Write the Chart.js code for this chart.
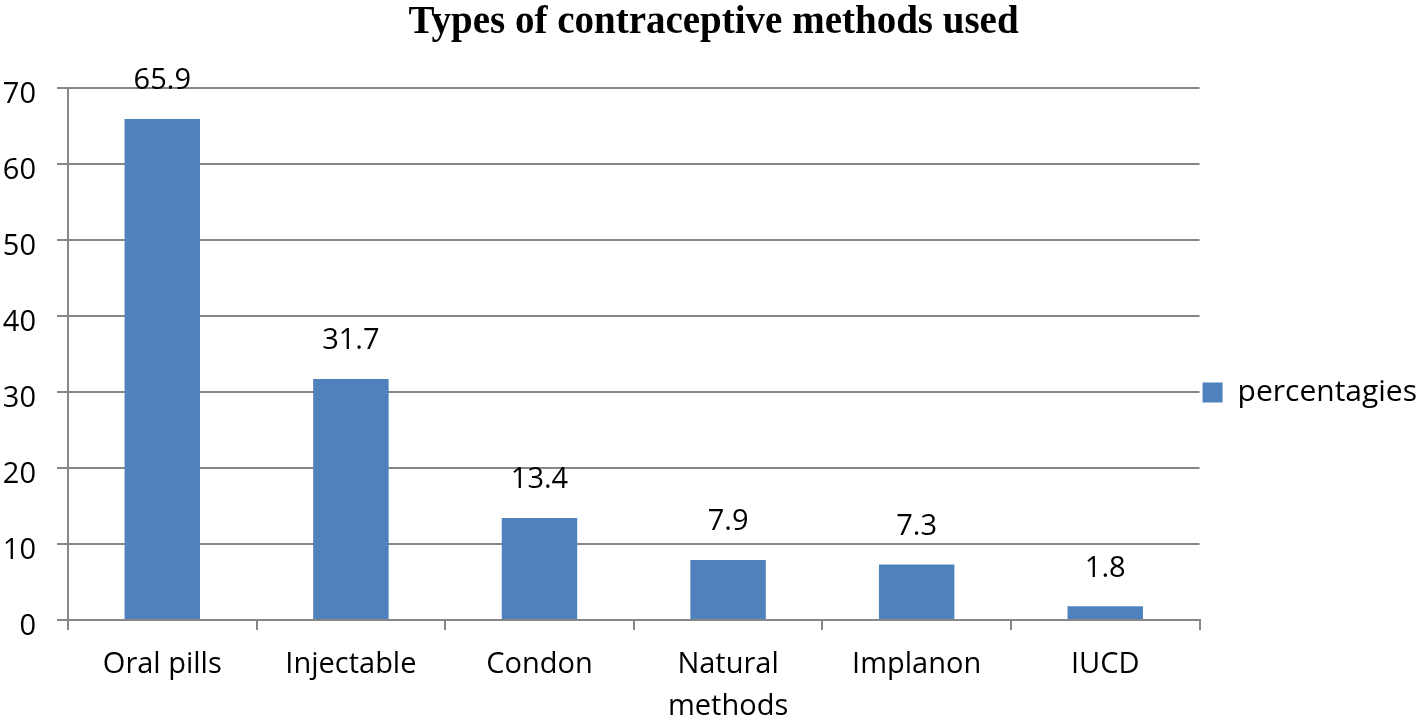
<!DOCTYPE html>
<html>
<head>
<meta charset="utf-8">
<script src="https://cdn.jsdelivr.net/npm/chart.js@4/dist/chart.umd.min.js"></script>
<style>
  html, body { margin: 0; padding: 0; background: #fff; }
  #wrap { width: 1418px; height: 719px; }
</style>
</head>
<body>
<div id="wrap"><canvas id="chart" width="1418" height="719"></canvas></div>
<script>
  const titleText = 'Types of contraceptive methods used';
  const categories = ['Oral pills', 'Injectable', 'Condon', ['Natural', 'methods'], 'Implanon', 'IUCD'];
  const seriesName = 'percentagies';
  const percentages = [65.9, 31.7, 13.4, 7.9, 7.3, 1.8];
  const yTicks = [0, 10, 20, 30, 40, 50, 60, 70];

  const gridGray = '#878787';
  const barBlue = '#4F81BD';
  const labelFont = { family: 'Open Sans', size: 29 };

  // value labels above each bar
  const valueLabels = {
    id: 'valueLabels',
    afterDatasetsDraw(chart) {
      const ctx = chart.ctx;
      const meta = chart.getDatasetMeta(0);
      ctx.save();
      ctx.font = `${labelFont.size}px ${labelFont.family}`;
      ctx.fillStyle = '#000';
      ctx.textAlign = 'center';
      ctx.textBaseline = 'middle';
      meta.data.forEach((bar, i) => {
        ctx.fillText(percentages[i].toFixed(1), bar.x, bar.y - 38);
      });
      ctx.restore();
    }
  };

  new Chart(document.getElementById('chart'), {
    type: 'bar',
    data: {
      labels: categories,
      datasets: [{
        label: seriesName,
        data: percentages,
        backgroundColor: barBlue,
        borderWidth: 0,
        categoryPercentage: 1,
        barPercentage: 0.4
      }]
    },
    options: {
      responsive: false,
      animation: false,
      layout: { padding: { left: 0, right: -9, top: 0, bottom: 0 } },
      plugins: {
        title: {
          display: true,
          text: titleText,
          color: '#000',
          font: { family: 'Liberation Serif', size: 39, weight: 'bold' },
          padding: { top: 0, bottom: 41 }
        },
        legend: {
          position: 'right',
          labels: {
            color: '#000',
            font: { family: 'Open Sans', size: 30 },
            boxWidth: 20,
            boxHeight: 20,
            padding: 3
          },
          title: { display: true, text: '', font: { size: 1 }, padding: { top: 65, bottom: 0 } }
        },
        tooltip: { enabled: false }
      },
      scales: {
        x: {
          offset: true,
          grid: { display: true, offset: true, drawOnChartArea: false, drawTicks: true, tickLength: 10, color: gridGray, lineWidth: 2 },
          border: { display: true, color: gridGray, width: 2 },
          ticks: { color: '#000', font: { family: 'Open Sans', size: 29, lineHeight: 1.45 }, padding: 14, maxRotation: 0 },
          afterFit: s => { s.height = 99; }
        },
        y: {
          min: 0, max: 70,
          afterBuildTicks: s => { s.ticks = yTicks.map(v => ({ value: v })); },
          grid: { color: gridGray, lineWidth: 2, drawTicks: true, tickLength: 11 },
          border: { display: true, color: gridGray, width: 2 },
          ticks: { color: '#000', font: labelFont, padding: 21, labelOffset: 7 },
          afterFit: s => { s.width = 68; }
        }
      }
    },
    plugins: [valueLabels]
  });
</script>
</body>
</html>
